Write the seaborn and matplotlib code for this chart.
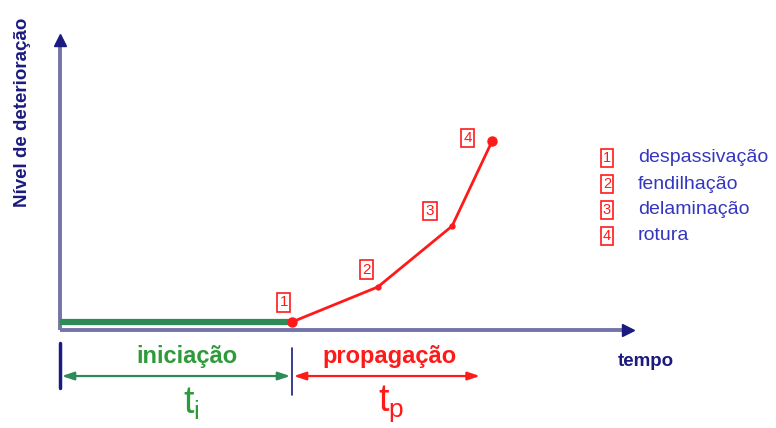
import matplotlib
matplotlib.use("Agg")
import matplotlib.pyplot as plt
import seaborn as sns
import pandas as pd

sns.set_theme(style="white")
plt.rcParams['font.family'] = ['Liberation Sans', 'DejaVu Sans']

# data
stage_labels = ["1", "2", "3", "4"]
stage_names = ["despassivação", "fendilhação", "delaminação", "rotura"]
stage_time = [4.0, 5.48, 6.76, 7.45]
stage_level = [0.27, 1.45, 3.5, 6.36]
init_time = [0.0, 4.0]
init_level = [0.27, 0.27]
t_initiation = 4.0
t_propagation_end = 7.24

W, H = 776, 428
fig = plt.figure(figsize=(W / 100, H / 100), dpi=100)
# axes area in pixels: x 60..640, y 33..330
ax = fig.add_axes([60 / W, 1 - 330 / H, 580 / W, 297 / H])
ax.set_xlim(0, 10)
ax.set_ylim(0, 10)
ax.axis("off")

axis_col = "#7474a8"
navy = "#1a1a80"
red = "#ff1a1a"
green = "#2e8b57"
green_txt = "#2e9a3a"
blue_txt = "#3535c0"

# axes lines with navy heads
ax.plot([0, 0], [0, 9.7], color=axis_col, lw=2.8, clip_on=False, solid_capstyle="butt")
ax.plot([0, 9.75], [0, 0], color=axis_col, lw=2.8, clip_on=False, solid_capstyle="butt")
ax.plot([0], [9.75], marker="^", color=navy, ms=9, clip_on=False)
ax.plot([9.8], [0], marker=">", color=navy, ms=9, clip_on=False)

df_init = pd.DataFrame({"t": init_time, "n": init_level})
sns.lineplot(data=df_init, x="t", y="n", ax=ax, color=green, lw=4.5, legend=False)
df = pd.DataFrame({"t": stage_time, "n": stage_level})
sns.lineplot(data=df, x="t", y="n", ax=ax, color=red, lw=2, legend=False)
ax.plot(stage_time, stage_level, "o", color=red, ms=3.5, clip_on=False)
ax.plot([stage_time[0], stage_time[-1]], [stage_level[0], stage_level[-1]], "o",
        color=red, ms=6.5, clip_on=False)

box = dict(boxstyle="square,pad=0.15", fc="white", ec=red, lw=1.2)
offsets = [(-0.14, 0.66), (-0.2, 0.58), (-0.38, 0.5), (-0.42, 0.1)]
for lab, t, n, (dx, dy) in zip(stage_labels, stage_time, stage_level, offsets):
    ax.text(t + dx, n + dy, lab, color=red, fontsize=11, ha="center", va="center",
            bbox=box)

# legend
for i, (lab, name) in enumerate(zip(stage_labels, stage_names)):
    y = 1 - (158 + i * 26) / H
    fig.text(607 / W, y, lab, color=red, fontsize=10.5, ha="center", va="center", bbox=box)
    fig.text(638 / W, y, name, color=blue_txt, fontsize=14, ha="left", va="center")

# axis labels
fig.text(23 / W, 1 - 112 / H, "Nível de deterioração", rotation=90, color=navy,
         fontsize=13.5, fontweight="bold", ha="center", va="center")
fig.text(646 / W, 1 - 361 / H, "tempo", color=navy, fontsize=13.5, fontweight="bold",
         ha="center", va="center")

# bottom time segments
ax.plot([0, 0], [-0.45, -1.95], color=navy, lw=2.5, clip_on=False)
ax.plot([t_initiation, t_initiation], [-0.62, -2.2], color=navy, lw=1.2, clip_on=False)
yb = -1.55
ax.annotate("", xy=(0.03, yb), xytext=(t_initiation - 0.03, yb),
            arrowprops=dict(arrowstyle="<|-|>,head_length=0.6,head_width=0.2",
                            color=green, lw=1.6, shrinkA=0, shrinkB=0),
            annotation_clip=False)
ax.annotate("", xy=(t_initiation + 0.03, yb), xytext=(t_propagation_end, yb),
            arrowprops=dict(arrowstyle="<|-|>,head_length=0.6,head_width=0.2",
                            color=red, lw=1.6, shrinkA=0, shrinkB=0),
            annotation_clip=False)
fig.text(187 / W, 1 - 356 / H, "iniciação", color=green_txt, fontsize=17,
         fontweight="bold", ha="center", va="center")
fig.text(390 / W, 1 - 356 / H, "propagação", color=red, fontsize=17,
         fontweight="bold", ha="center", va="center")
fig.text(191 / W, 1 - 404 / H, r"t$_\mathregular{i}$", color=green_txt, fontsize=27,
         ha="center", va="center")
fig.text(391 / W, 1 - 404 / H, r"t$_\mathregular{p}$", color=red, fontsize=27,
         ha="center", va="center")

fig.savefig("out.png", dpi=100)
